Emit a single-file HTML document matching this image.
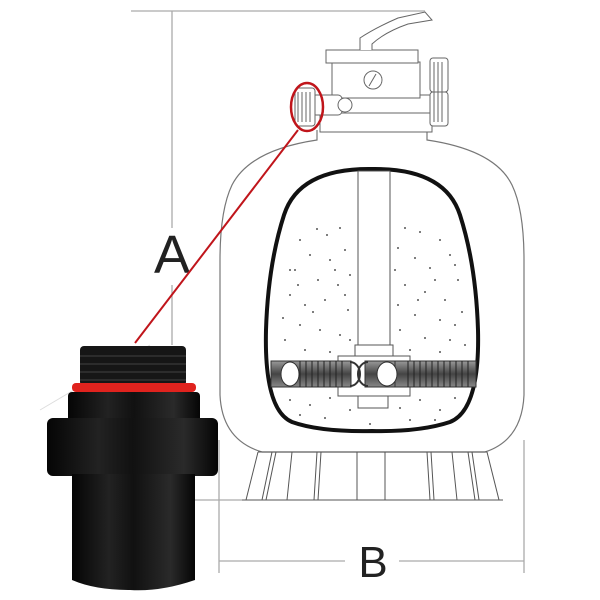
<!DOCTYPE html>
<html><head><meta charset="utf-8"><style>html,body{margin:0;padding:0;background:#fff}svg{display:block}</style></head>
<body>
<svg width="600" height="600" viewBox="0 0 600 600" xmlns="http://www.w3.org/2000/svg">
<defs>
<linearGradient id="blk" x1="0" x2="1" y1="0" y2="0">
<stop offset="0" stop-color="#050505"/><stop offset="0.3" stop-color="#222"/><stop offset="0.5" stop-color="#111"/><stop offset="0.8" stop-color="#2a2a2a"/><stop offset="1" stop-color="#050505"/>
</linearGradient>
<linearGradient id="lat" x1="0" x2="0" y1="0" y2="1">
<stop offset="0" stop-color="#999"/><stop offset="0.5" stop-color="#444"/><stop offset="1" stop-color="#888"/>
</linearGradient>
</defs>
<g stroke="#aaa" stroke-width="1.3" fill="none">
<line x1="131" y1="11" x2="425" y2="11"/>
<line x1="172" y1="11" x2="172" y2="228"/>
<line x1="172" y1="285" x2="172" y2="345"/>
<line x1="219" y1="440" x2="219" y2="573"/>
<line x1="524" y1="440" x2="524" y2="573"/>
<line x1="219" y1="561" x2="345" y2="561"/>
<line x1="399" y1="561" x2="524" y2="561"/>
<line x1="195" y1="500" x2="242" y2="500"/>
</g>
<text x="172" y="273" font-family="Liberation Sans, sans-serif" font-size="54" text-anchor="middle" fill="#222">A</text>
<text x="373" y="577" font-family="Liberation Sans, sans-serif" font-size="44" text-anchor="middle" fill="#222">B</text>
<path d="M317,130 L317,140 Q250,150 232,185 Q220,210 220,260 L220,395 Q222,440 262,452 L485,452 Q522,440 524,395 L524,260 Q524,210 512,185 Q495,150 427,140 L427,130" fill="none" stroke="#777" stroke-width="1.2"/>
<path d="M372,169 Q445,168 460,215 Q476,265 478,330 Q480,410 450,422 Q420,432 372,431 Q320,432 292,422 Q264,410 266,330 Q268,265 284,215 Q299,168 372,169 Z" fill="#fff" stroke="#111" stroke-width="4"/>
<g fill="#555">
<circle cx="317" cy="229" r="1"/><circle cx="327" cy="235" r="1"/><circle cx="340" cy="228" r="1"/><circle cx="300" cy="240" r="1"/><circle cx="310" cy="255" r="1"/><circle cx="330" cy="260" r="1"/><circle cx="345" cy="250" r="1"/><circle cx="295" cy="270" r="1"/><circle cx="318" cy="280" r="1"/><circle cx="338" cy="285" r="1"/><circle cx="290" cy="295" r="1"/><circle cx="305" cy="305" r="1"/><circle cx="325" cy="300" r="1"/><circle cx="348" cy="310" r="1"/><circle cx="283" cy="318" r="1"/><circle cx="300" cy="325" r="1"/><circle cx="320" cy="330" r="1"/><circle cx="340" cy="335" r="1"/><circle cx="285" cy="340" r="1"/><circle cx="305" cy="350" r="1"/><circle cx="330" cy="352" r="1"/><circle cx="350" cy="340" r="1"/><circle cx="290" cy="270" r="1"/><circle cx="335" cy="270" r="1"/><circle cx="313" cy="312" r="1"/><circle cx="350" cy="275" r="1"/><circle cx="298" cy="285" r="1"/><circle cx="345" cy="295" r="1"/>
<circle cx="405" cy="228" r="1"/><circle cx="420" cy="232" r="1"/><circle cx="440" cy="240" r="1"/><circle cx="398" cy="248" r="1"/><circle cx="415" cy="258" r="1"/><circle cx="450" cy="255" r="1"/><circle cx="395" cy="270" r="1"/><circle cx="430" cy="268" r="1"/><circle cx="458" cy="280" r="1"/><circle cx="405" cy="285" r="1"/><circle cx="425" cy="292" r="1"/><circle cx="445" cy="300" r="1"/><circle cx="398" cy="305" r="1"/><circle cx="415" cy="315" r="1"/><circle cx="440" cy="320" r="1"/><circle cx="462" cy="312" r="1"/><circle cx="400" cy="330" r="1"/><circle cx="425" cy="338" r="1"/><circle cx="450" cy="340" r="1"/><circle cx="410" cy="350" r="1"/><circle cx="440" cy="352" r="1"/><circle cx="465" cy="345" r="1"/><circle cx="455" cy="265" r="1"/><circle cx="435" cy="280" r="1"/><circle cx="418" cy="300" r="1"/><circle cx="455" cy="325" r="1"/>
<circle cx="290" cy="400" r="1"/><circle cx="310" cy="405" r="1"/><circle cx="330" cy="398" r="1"/><circle cx="300" cy="415" r="1"/><circle cx="325" cy="418" r="1"/><circle cx="350" cy="410" r="1"/><circle cx="400" cy="408" r="1"/><circle cx="420" cy="400" r="1"/><circle cx="440" cy="410" r="1"/><circle cx="455" cy="398" r="1"/><circle cx="410" cy="420" r="1"/><circle cx="435" cy="420" r="1"/><circle cx="370" cy="424" r="1"/>
</g>
<rect x="358" y="171" width="32" height="174" fill="#fff" stroke="#555" stroke-width="1"/>
<rect x="355" y="345" width="38" height="14" fill="#fff" stroke="#555"/>
<rect x="338" y="356" width="72" height="40" fill="#fff" stroke="#555"/>
<rect x="358" y="396" width="30" height="12" fill="#fff" stroke="#555"/>
<rect x="271" y="361" width="80" height="26" fill="url(#lat)" stroke="#333"/>
<rect x="395" y="361" width="81" height="26" fill="url(#lat)" stroke="#333"/>
<g stroke="#222" stroke-width="1" fill="none">
<path d="M300,361v26M306,361v26M312,361v26M318,361v26M324,361v26M330,361v26M336,361v26M342,361v26"/>
<path d="M408,361v26M414,361v26M420,361v26M426,361v26M432,361v26M438,361v26M444,361v26M450,361v26M456,361v26M462,361v26M468,361v26"/>
</g>
<rect x="365" y="361" width="30" height="26" fill="url(#lat)" stroke="#333"/>
<ellipse cx="290" cy="374" rx="9" ry="12" fill="#fff" stroke="#333"/>
<ellipse cx="387" cy="374" rx="10" ry="12" fill="#fff" stroke="#333"/>
<path d="M350,362 a10,12 0 0 1 0,24 M368,362 a10,12 0 0 0 0,24" fill="none" stroke="#333" stroke-width="2"/>
<g stroke="#555" stroke-width="1" fill="none">
<path d="M258,452 L487,452 M242,500 L503,500 M258,452 L246,500 M487,452 L499,500"/>
<path d="M272,452 L262,500 M276,452 L266,500 M292,452 L287,500 M317,452 L314,500 M321,452 L318,500 M357,452 L357,500 M385,452 L385,500 M427,452 L430,500 M431,452 L434,500 M452,452 L457,500 M468,452 L475,500 M472,452 L479,500"/>
</g>
<g stroke="#666" stroke-width="1" fill="#fff">
<rect x="320" y="112" width="112" height="20"/>
<rect x="332" y="95" width="100" height="18"/>
<rect x="332" y="62" width="88" height="36"/>
<rect x="326" y="50" width="92" height="13"/>
<path d="M360,50 L360,38 Q375,28 398,18 L425,12 L432,20 L408,24 Q385,32 372,44 L372,50" />
<circle cx="373" cy="80" r="9"/>
<line x1="369" y1="86" x2="376" y2="74"/>
<rect x="312" y="95" width="30" height="20" rx="4"/>
<circle cx="345" cy="105" r="7"/>
<rect x="430" y="58" width="18" height="34" rx="3"/>
<rect x="430" y="92" width="18" height="34" rx="3"/>
<path d="M434,62v60M438,62v60M442,62v60"/>
<rect x="295" y="88" width="20" height="38" rx="3"/>
<path d="M298,92v30M302,92v30M306,92v30M310,92v30"/>
</g>
<ellipse cx="307" cy="107" rx="16" ry="24" fill="none" stroke="#c0151b" stroke-width="2.5"/>
<line x1="298" y1="130" x2="135" y2="343" stroke="#c0151b" stroke-width="2"/>
<line x1="40" y1="410" x2="150" y2="345" stroke="#ddd" stroke-width="1"/>
<rect x="80" y="346" width="106" height="40" rx="4" fill="#161616"/>
<g stroke="#3a3a3a" stroke-width="1.3"><path d="M80,356h106M80,364h106M80,372h106M80,380h106"/></g>
<rect x="72" y="383" width="124" height="9" rx="4" fill="#e0231e"/>
<rect x="68" y="392" width="132" height="30" rx="4" fill="url(#blk)"/>
<rect x="47" y="418" width="171" height="58" rx="6" fill="url(#blk)"/>
<path d="M72,474 L195,474 L195,580 Q160,592 130,590 Q95,590 72,580 Z" fill="url(#blk)"/>
</svg>
</body></html>
